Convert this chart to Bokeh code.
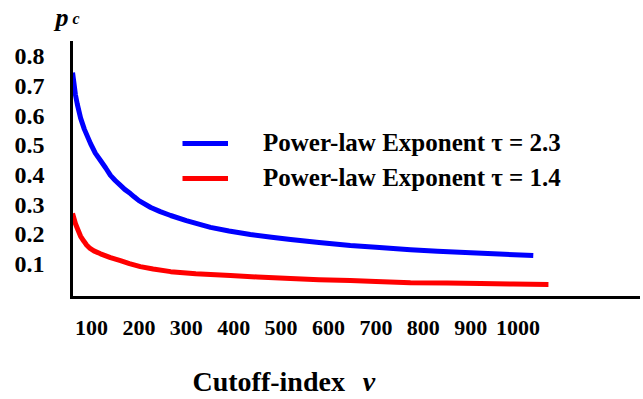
from bokeh.plotting import figure
from bokeh.models import Range1d, FixedTicker, Label, Legend, LegendItem, LinearAxis
from bokeh.embed import file_html
from bokeh.resources import INLINE

# Data
v_blue = [60, 63, 66, 70, 77, 85, 98, 108, 119, 130, 140, 150, 160, 170, 182, 190,
          200, 225, 245, 267, 300, 351, 390, 435, 480, 520, 580, 646, 700, 773, 830,
          900, 960, 1032]
pc_blue = [0.746, 0.710, 0.672, 0.640, 0.593, 0.555, 0.507, 0.475, 0.450, 0.425,
           0.400, 0.383, 0.368, 0.353, 0.339, 0.328, 0.315, 0.292, 0.278, 0.265,
           0.248, 0.225, 0.213, 0.201, 0.192, 0.184, 0.174, 0.164, 0.158, 0.150,
           0.145, 0.140, 0.135, 0.130]
v_red = [60, 63, 66, 70, 77, 84, 90, 97, 105, 119, 140, 161, 180, 203, 230, 267, 320,
         393, 450, 520, 580, 646, 700, 773, 850, 921, 990, 1064]
pc_red = [0.272, 0.255, 0.238, 0.222, 0.195, 0.178, 0.165, 0.154, 0.146, 0.136,
          0.123, 0.113, 0.103, 0.093, 0.085, 0.076, 0.069, 0.063, 0.058, 0.053,
          0.049, 0.046, 0.043, 0.039, 0.038, 0.036, 0.034, 0.033]
x_ticks = [100, 200, 300, 400, 500, 600, 700, 800, 900, 1000]
y_ticks = [0.1, 0.2, 0.3, 0.4, 0.5, 0.6, 0.7, 0.8]
label_blue = "Power-law Exponent \u03c4 = 2.3"
label_red = "Power-law Exponent \u03c4 = 1.4"
y_title = ("p", "c")
x_title = ("Cutoff-index", "v")

# axis extents (data units) and full view ranges
X_AXIS_START, X_AXIS_END = 57.8, 1258.0
Y_AXIS_START, Y_AXIS_END = -0.011, 0.847

SERIF = "Liberation Serif"

p = figure(width=640, height=396, output_backend="svg", toolbar_location=None,
           x_range=Range1d(-92.0, 1258.2), y_range=Range1d(-0.3444, 0.9889),
           x_axis_location=None, y_axis_location=None,
           min_border=0, min_border_left=0, min_border_right=0,
           min_border_top=0, min_border_bottom=0)
p.outline_line_color = None
p.xgrid.visible = False
p.ygrid.visible = False

r_blue = p.line(v_blue, pc_blue, line_color="#0000ff", line_width=5, line_join="round")
r_red = p.line(v_red, pc_red, line_color="#ff0000", line_width=5, line_join="round")

xaxis = LinearAxis(fixed_location=Y_AXIS_START, bounds=(X_AXIS_START, X_AXIS_END),
                   ticker=FixedTicker(ticks=x_ticks))
yaxis = LinearAxis(fixed_location=X_AXIS_START, bounds=(Y_AXIS_START, Y_AXIS_END),
                   ticker=FixedTicker(ticks=y_ticks))
for ax in (xaxis, yaxis):
    ax.axis_line_width = 3
    ax.axis_line_color = "black"
    ax.axis_line_cap = "square"
    ax.major_tick_line_color = None
    ax.minor_tick_line_color = None
    ax.major_label_text_font = SERIF
    ax.major_label_text_font_style = "bold"
    ax.major_label_text_color = "black"
xaxis.major_label_text_font_size = "22px"
yaxis.major_label_text_font_size = "24px"
xaxis.major_label_standoff = 18
yaxis.major_label_standoff = 21
p.add_layout(xaxis, "below")
p.add_layout(yaxis, "left")

legend = Legend(items=[LegendItem(label=label_blue, renderers=[r_blue]),
                       LegendItem(label=label_red, renderers=[r_red])],
                location=(182, 203), orientation="vertical",
                border_line_color=None, background_fill_alpha=0,
                padding=0, margin=0, spacing=5,
                glyph_width=46, glyph_height=30, label_height=30,
                label_standoff=35,
                label_text_font=SERIF, label_text_font_style="bold",
                label_text_font_size="25px", label_text_color="black")
p.add_layout(legend, "center")


def add_text(x, y, txt, style, size):
    p.add_layout(Label(x=x, y=y, text=txt, text_font=SERIF,
                       text_font_style=style, text_font_size=size,
                       text_color="black", text_baseline="alphabetic"))


add_text(24.0, 0.932, y_title[0], "bold italic", "26px")
add_text(60.0, 0.927, y_title[1], "bold italic", "16px")
add_text(313.0, -0.294, x_title[0], "bold", "28px")
add_text(672.0, -0.294, x_title[1], "bold italic", "28px")

open("out.html", "w").write(file_html(p, INLINE))
